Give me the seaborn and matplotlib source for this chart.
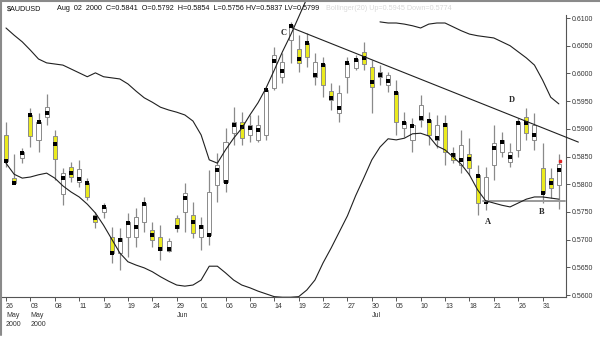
import numpy as np
import pandas as pd
import matplotlib
matplotlib.use("Agg")
import matplotlib.pyplot as plt
import matplotlib.transforms as mtransforms
from matplotlib.lines import Line2D
import seaborn as sns

nan = np.nan

tick_labels = ["26\nMay\n2000", "03\nMay\n2000", "08", "11", "16", "19", "24", "29\nJun",
               "01", "06", "09", "14", "19", "22", "27", "30\nJul", "05", "10", "13", "18",
               "21", "26", "31"]

high = [0.5912, 0.5855, 0.5865, 0.5938, 0.5929, 0.5963, 0.5898, 0.5829, 0.5840, 0.5844,
        0.5811, 0.5750, 0.5766, 0.5723, 0.5721, 0.5748, 0.5757, 0.5777, 0.5732, 0.5726,
        0.5703, 0.5744, 0.5802, 0.5768, 0.5741, 0.5826, 0.5856, 0.5901, 0.5939, 0.5930,
        0.5925, 0.5925, 0.5974, 0.6048, 0.6037, 0.6093, 0.6069, 0.6073, 0.6037, 0.6030,
        0.5983, 0.5979, 0.6030, 0.6033, 0.6057, 0.6024, 0.6015, 0.6003, 0.5988, 0.5930,
        0.5920, 0.5961, 0.5930, 0.5925, 0.5925, 0.5867, 0.5898, 0.5883, 0.5835, 0.5831,
        0.5907, 0.5894, 0.5874, 0.5920, 0.5938, 0.5929, 0.5874, 0.5829, 0.5854]

low = [0.5831, 0.5800, 0.5838, 0.5867, 0.5858, 0.5907, 0.5808, 0.5762, 0.5804, 0.5795,
       0.5771, 0.5721, 0.5739, 0.5658, 0.5645, 0.5669, 0.5687, 0.5714, 0.5687, 0.5663,
       0.5678, 0.5714, 0.5714, 0.5703, 0.5681, 0.5690, 0.5768, 0.5786, 0.5871, 0.5871,
       0.5876, 0.5876, 0.5880, 0.5970, 0.5983, 0.6019, 0.6003, 0.6012, 0.5979, 0.5957,
       0.5934, 0.5912, 0.5965, 0.6006, 0.6006, 0.5929, 0.5979, 0.5966, 0.5889, 0.5885,
       0.5858, 0.5903, 0.5871, 0.5865, 0.5835, 0.5838, 0.5820, 0.5817, 0.5744, 0.5753,
       0.5808, 0.5849, 0.5831, 0.5849, 0.5880, 0.5862, 0.5766, 0.5775, 0.5756]

open_ = [0.5889, 0.5811, 0.5847, 0.5925, 0.5880, 0.5921, 0.5887, 0.5782, 0.5831, 0.5804,
         0.5802, 0.5744, 0.5750, 0.5705, 0.5676, 0.5705, 0.5705, 0.5732, 0.5717, 0.5705,
         0.5679, 0.5739, 0.5750, 0.5744, 0.5705, 0.5708, 0.5799, 0.5804, 0.5892, 0.5912,
         0.5889, 0.5880, 0.5889, 0.5974, 0.5994, 0.6060, 0.6044, 0.6055, 0.5994, 0.6017,
         0.5968, 0.5929, 0.5994, 0.6010, 0.6039, 0.6012, 0.5994, 0.5979, 0.5966, 0.5901,
         0.5880, 0.5916, 0.5916, 0.5880, 0.5910, 0.5856, 0.5835, 0.5855, 0.5817, 0.5768,
         0.5835, 0.5858, 0.5840, 0.5862, 0.5921, 0.5880, 0.5829, 0.5811, 0.5799]

close = [0.5842, 0.5802, 0.5858, 0.5887, 0.5912, 0.5939, 0.5845, 0.5820, 0.5813, 0.5827,
         0.5777, 0.5732, 0.5759, 0.5676, 0.5703, 0.5732, 0.5741, 0.5766, 0.5699, 0.5681,
         0.5697, 0.5721, 0.5784, 0.5712, 0.5726, 0.5786, 0.5835, 0.5876, 0.5912, 0.5883,
         0.5907, 0.5907, 0.5970, 0.6033, 0.6021, 0.6087, 0.6019, 0.6030, 0.6021, 0.5979,
         0.5952, 0.5965, 0.6019, 0.6026, 0.6017, 0.5975, 0.6003, 0.5997, 0.5912, 0.5912,
         0.5907, 0.5943, 0.5889, 0.5907, 0.5858, 0.5844, 0.5871, 0.5829, 0.5766, 0.5813,
         0.5874, 0.5880, 0.5858, 0.5912, 0.5892, 0.5907, 0.5784, 0.5793, 0.5837]

mark = [0.5842, 0.5802, 0.5856, 0.5925, 0.5912, 0.5929, 0.5873, 0.5811, 0.5820, 0.5809,
        0.5802, 0.5739, 0.5759, 0.5676, 0.5699, 0.5730, 0.5723, 0.5764, 0.5708, 0.5683,
        0.5683, 0.5723, 0.5775, 0.5732, 0.5723, 0.5708, 0.5826, 0.5804, 0.5907, 0.5903,
        0.5901, 0.5898, 0.5970, 0.6022, 0.6004, 0.6086, 0.6026, 0.6055, 0.5997, 0.6015,
        0.5956, 0.5938, 0.6019, 0.6024, 0.6028, 0.5984, 0.5997, 0.5986, 0.5965, 0.5910,
        0.5905, 0.5920, 0.5914, 0.5883, 0.5907, 0.5853, 0.5844, 0.5845, 0.5815, 0.5768,
        0.5865, 0.5876, 0.5849, 0.5910, 0.5910, 0.5889, 0.5784, 0.5802, 0.5826]

upper = [0.6082, 0.6069, 0.6057, 0.6042, 0.6026, 0.6019, 0.6017, 0.6015, 0.6008, 0.6001,
         0.5994, 0.6001, 0.5994, 0.5992, 0.5990, 0.5981, 0.5968, 0.5956, 0.5948, 0.5939,
         0.5934, 0.5930, 0.5925, 0.5914, 0.5889, 0.5844, 0.5838, 0.5862, 0.5883, 0.5901,
         0.5925, 0.5947, 0.5974, 0.6006, 0.6039, 0.6069, 0.6102, 0.6135, nan, nan,
         nan, nan, nan, nan, nan, nan, 0.6093, 0.6091, 0.6091, 0.6089,
         0.6086, 0.6082, 0.6089, 0.6091, 0.6091, 0.6084, 0.6077, 0.6071, 0.6068, 0.6066,
         0.6064, 0.6057, 0.6050, 0.6039, 0.6028, 0.6015, 0.5988, 0.5957, 0.5945]

lower = [0.5838, 0.5818, 0.5811, 0.5813, 0.5817, 0.5820, 0.5811, 0.5797, 0.5786, 0.5777,
         0.5764, 0.5748, 0.5726, 0.5701, 0.5676, 0.5660, 0.5654, 0.5649, 0.5642, 0.5633,
         0.5625, 0.5618, 0.5616, 0.5618, 0.5627, 0.5652, 0.5652, 0.5640, 0.5627, 0.5618,
         0.5613, 0.5607, 0.5602, 0.5597, 0.5596, 0.5596, 0.5597, 0.5609, 0.5627, 0.5658,
         0.5685, 0.5714, 0.5743, 0.5779, 0.5811, 0.5844, 0.5867, 0.5882, 0.5880, 0.5883,
         0.5891, 0.5892, 0.5887, 0.5869, 0.5862, 0.5849, 0.5836, 0.5817, 0.5790, 0.5770,
         0.5766, 0.5762, 0.5759, 0.5766, 0.5773, 0.5777, 0.5777, 0.5775, 0.5773]

trend_x = [35.2, 70.4]
trend_y = [0.6082, 0.5876]
support_x = [58.7, 68.8]
support_y = [0.5769, 0.5769]
last_close = 0.5841
point_labels = ["A", "B", "C", "D"]
point_x = [59.3, 65.9, 34.1, 62.2]
point_y = [0.5732, 0.5750, 0.6073, 0.5952]
y_ticks = [0.5600, 0.5650, 0.5700, 0.5750, 0.5800, 0.5850, 0.5900, 0.5950, 0.6000, 0.6050, 0.6100]

sns.set_style("white")
plt.rcParams["font.family"] = ["Liberation Sans", "DejaVu Sans"]

n = len(high)
df = pd.DataFrame({"i": np.arange(n), "high": high, "low": low, "open": open_,
                   "close": close, "mark": mark, "upper": upper, "lower": lower})
df["down"] = df["close"] < df["open"]

fig = plt.figure(figsize=(6.0, 3.39), dpi=100)
W, H = 600, 339
ax = fig.add_axes([2 / W, 1 - 297 / H, 564 / W, 295 / H])

# wicks
ax.vlines(df["i"], df["low"], df["high"], color="#8a8a8a", lw=0.9, zorder=2)
# bodies
bot = np.minimum(df["open"], df["close"])
hgt = np.abs(df["close"] - df["open"])
cols = np.where(df["down"], "#eaea1e", "#ffffff")
ax.bar(df["i"], hgt, bottom=bot, width=0.5, color=cols, edgecolor="#8a8a8a",
       linewidth=0.7, zorder=3)
# markers
sns.scatterplot(data=df, x="i", y="mark", marker="s", s=5, color="black",
                edgecolor="black", linewidth=0, ax=ax, zorder=4, legend=False)
ax.plot([n - 1 + 0.15], [last_close], marker="s", ms=1.8, color="#dd2222", zorder=5)

# bollinger bands (split at gaps)
for col in ["upper", "lower"]:
    sub = df[["i", col]].copy()
    sub["seg"] = sub[col].isna().cumsum()
    sub = sub.dropna()
    sns.lineplot(data=sub, x="i", y=col, units="seg", estimator=None, color="#202020",
                 lw=0.8, ax=ax, zorder=5, legend=False)

# trend lines
ax.plot(trend_x, trend_y, color="#202020", lw=0.8, zorder=5, clip_on=False)
ax.plot(support_x, support_y, color="#9a9a9a", lw=1.4, zorder=4, clip_on=False)

for lab, px, py in zip(point_labels, point_x, point_y):
    ax.text(px, py, lab, fontsize=6, fontweight="bold", family="Liberation Serif",
            ha="center", va="center", zorder=6)

y_top = 0.61289
y_bot = 0.55964
ax.set_ylim(y_bot, y_top)
ax.set_xlim(-0.49, 68.88)

ax.set_xticks(np.arange(0, 3 * len(tick_labels), 3))
ax.set_xticklabels(tick_labels, fontsize=5, color="#333333", linespacing=1.4)
offset = mtransforms.ScaledTranslation(-0.022, 0, fig.dpi_scale_trans)
for lbl in ax.get_xticklabels():
    lbl.set_horizontalalignment("left")
    lbl.set_transform(lbl.get_transform() + offset)
ax.set_yticks(y_ticks)
ax.set_yticklabels([f"{v:.4f}" for v in y_ticks], fontsize=5, color="#333333")
ax.yaxis.tick_right()
ax.tick_params(axis="both", length=3, width=0.7, color="#555555", pad=1,
               direction="out", bottom=True, right=True, left=False)
ax.set_xlabel("")
ax.set_ylabel("")
for s in ["top", "left"]:
    ax.spines[s].set_visible(False)
for s in ["bottom", "right"]:
    ax.spines[s].set_color("#555555")
    ax.spines[s].set_linewidth(0.8)
ax.spines["right"].set_bounds(y_bot, 0.6105)

# figure frame
fig.add_artist(Line2D([0.8 / W, 0.8 / W], [1 - 335 / H, 1], color="#8a8a8a", lw=1.5))
fig.add_artist(Line2D([0, 1], [1 - 0.8 / H, 1 - 0.8 / H], color="#8a8a8a", lw=1.5))

fig.text(7 / W, 1 - 9 / H, "$AUDUSD", fontsize=5.2, va="center", ha="left", color="#111111")
fig.text(57 / W, 1 - 9 / H,
         "Aug  02  2000  C=0.5841  O=0.5792  H=0.5854  L=0.5756 HV=0.5837 LV=0.5799",
         fontsize=5.2, va="center", ha="left", color="#111111")
fig.text(326 / W, 1 - 9 / H, "Bollinger(20) Up=0.5945 Down=0.5774",
         fontsize=5.2, va="center", ha="left", color="#d8d8d8")

fig.savefig("out.png", dpi=100, facecolor="white")
